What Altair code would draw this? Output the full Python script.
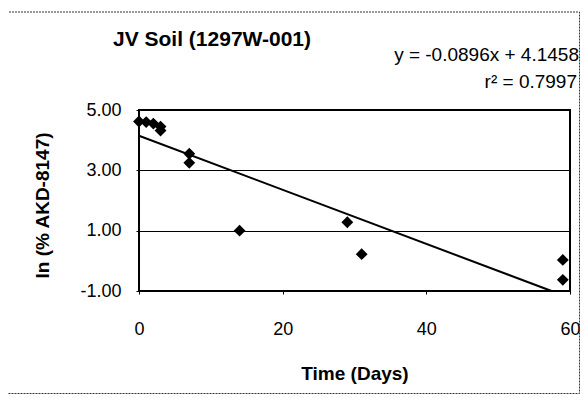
import altair as alt
import pandas as pd

# ---- data ----
days = [0, 1, 2, 3, 3, 7, 7, 14, 29, 31, 59, 59]
ln_akd = [4.62, 4.60, 4.55, 4.45, 4.32, 3.55, 3.25, 1.00, 1.28, 0.22, 0.03, -0.63]
slope = -0.0896
intercept = 4.1458
fit_days = [0, 57.43]
x_ticks = [0, 20, 40, 60]
y_ticks = [-1, 1, 3, 5]
title_text = "JV Soil (1297W-001)"
eq_text = "y = -0.0896x + 4.1458"
r2_text = "r\u00b2 = 0.7997"

FONT = "Liberation Sans"
W, H = 431, 181

pts = pd.DataFrame({"day": days, "ln": ln_akd})
fit = pd.DataFrame({"day": fit_days})

xs = alt.Scale(domain=[0, 60], nice=False, zero=False)
ys = alt.Scale(domain=[-1, 5], nice=False, zero=False)

x_axis = alt.Axis(values=x_ticks, title="Time (Days)", grid=False, labelFlush=False,
                  domain=False, tickSize=3, tickColor="black",
                  labelPadding=26, labelFontSize=18, labelFont=FONT, labelColor="black",
                  titleFont=FONT, titleFontSize=19, titleFontWeight="bold", titleColor="black",
                  titleY=82, titleBaseline="middle")
y_axis = alt.Axis(values=y_ticks, format=".2f", title="ln (% AKD-8147)",
                  labelExpr="replace(datum.label, '\u2212', '-')", labelFlush=False,
                  grid=True, gridColor="black", gridWidth=1, gridOpacity=1,
                  domain=False, tickSize=3, tickColor="black",
                  labelPadding=15, labelFontSize=18, labelFont=FONT, labelColor="black",
                  titleFont=FONT, titleFontSize=19, titleFontWeight="bold", titleColor="black",
                  titleX=-97, titleY=95, titleBaseline="middle")

points = alt.Chart(pts).mark_point(shape="diamond", filled=True, color="black",
                                   size=140, opacity=1).encode(
    x=alt.X("day:Q", scale=xs, axis=x_axis),
    y=alt.Y("ln:Q", scale=ys, axis=y_axis),
)

line = alt.Chart(fit).transform_calculate(
    ln=f"{slope} * datum.day + {intercept}"
).mark_line(color="black", strokeWidth=2).encode(
    x=alt.X("day:Q", scale=xs),
    y=alt.Y("ln:Q", scale=ys),
)

frame = alt.Chart(pd.DataFrame({"a": [0]})).mark_rect(
    fill=None, stroke="#333333", strokeWidth=1, strokeDash=[2, 1]
).encode(x=alt.value(-133), x2=alt.value(440.5), y=alt.value(-98), y2=alt.value(283.5))


def label(text, x, y, size, weight="normal", align="left"):
    return alt.Chart(pd.DataFrame({"t": [text]})).mark_text(
        font=FONT, fontSize=size, fontWeight=weight, color="black",
        align=align, baseline="middle"
    ).encode(x=alt.value(x), y=alt.value(y), text="t:N")


title = label(title_text, -26, -70, 21, "bold", "left")
eq = label(eq_text, 440, -55, 19, "normal", "right")
r2 = label(r2_text, 438, -28, 19, "normal", "right")

chart = alt.layer(frame, line, points, title, eq, r2).properties(
    width=W, height=H,
    autosize=alt.AutoSizeParams(type="none"),
    padding={"left": 131, "top": 102, "right": 10, "bottom": 104},
).configure(background="white").configure_view(stroke="black", strokeWidth=2)

chart.save("out.html", embed_options={"renderer": "svg", "actions": False})
